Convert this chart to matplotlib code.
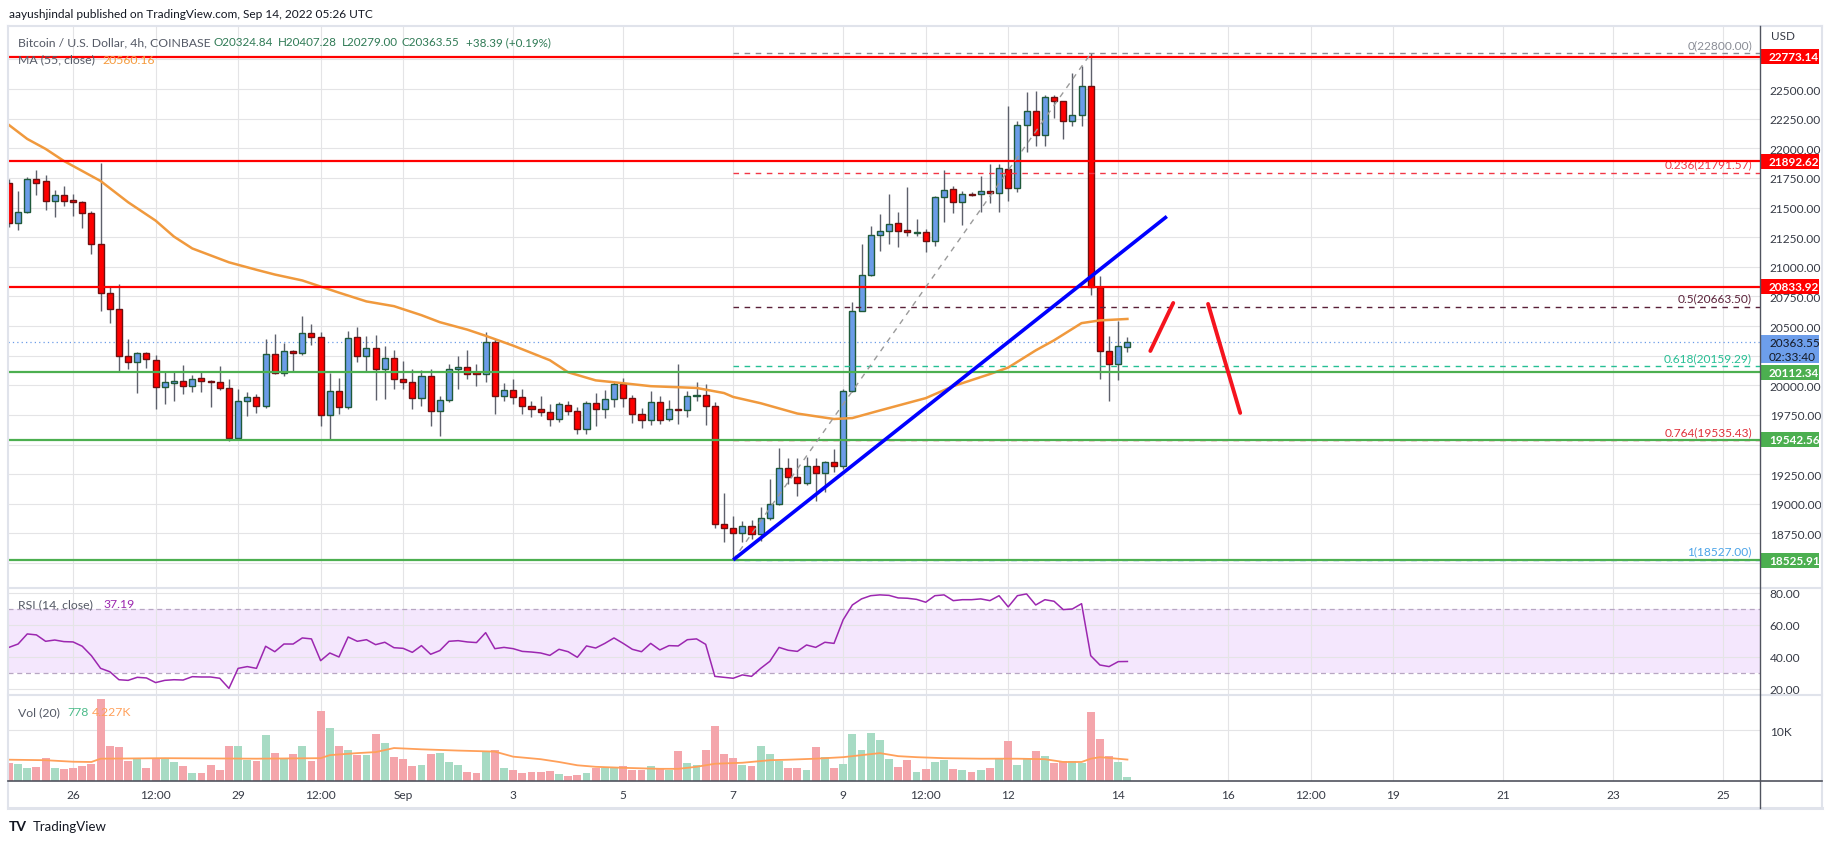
import matplotlib
matplotlib.use("Agg")
import numpy as np
import matplotlib.pyplot as plt
from matplotlib.lines import Line2D
from matplotlib.patches import Rectangle
from matplotlib.transforms import blended_transform_factory

plt.rcParams['font.family'] = ['Lato', 'DejaVu Sans']

W, H = 1834, 845

# BTC/USD 4h candles (Coinbase). bar 0 = Aug 26 00:00 UTC, 6 bars per day.
# the first bar is cut in half by the left edge of the chart
first_bar = -7
opens = [21705, 21367, 21460, 21739, 21722, 21559, 21604, 21562, 21545, 21452,
         21190, 20777, 20642, 20245, 20200, 20270, 20211, 19983, 20023, 20034,
         19992, 20059, 20034, 20026, 19975, 19555, 19865, 19899, 19823, 20262,
         20101, 20290, 20270, 20439, 20405, 19752, 19949, 19814, 20405, 20250,
         20312, 20141, 20228, 20051, 20025, 19890, 20076, 19781, 19874, 20135,
         20152, 20110, 20093, 20363, 19913, 19958, 19899, 19823, 19797, 19772,
         19713, 19831, 19781, 19629, 19848, 19798, 19882, 20008, 19890, 19755,
         19705, 19857, 19713, 19798, 19789, 19907, 19916, 19823, 18827, 18793,
         18751, 18810, 18743, 18878, 18996, 19300, 19224, 19173, 19317, 19258,
         19350, 19322, 19950, 20630, 20934, 21272, 21300, 21367, 21308, 21288,
         21291, 21221, 21587, 21654, 21544, 21615, 21612, 21643, 21620, 21823,
         21663, 22194, 22312, 22110, 22430, 22397, 22228, 22279, 22523, 20827,
         20287, 20177, 20324.84]
highs = [21740, 21637, 21755, 21817, 21775, 21649, 21680, 21612, 21559, 21471,
         21876, 20841, 20853, 20391, 20279, 20279, 20256, 20110, 20110, 20172,
         20087, 20110, 20048, 20163, 20054, 19969, 19941, 19924, 20391, 20433,
         20355, 20298, 20582, 20518, 20450, 20104, 20062, 20456, 20490, 20413,
         20425, 20329, 20298, 20205, 20138, 20132, 20138, 19913, 20180, 20245,
         20298, 20180, 20447, 20391, 20020, 20054, 19969, 19871, 19907, 19843,
         19857, 19865, 19814, 19870, 19935, 19958, 20031, 20062, 19919, 19809,
         19949, 19913, 19876, 20177, 19949, 20025, 20011, 19857, 19092, 18900,
         18852, 18864, 18971, 19210, 19471, 19387, 19387, 19398, 19387, 19362,
         19463, 19969, 20700, 21193, 21347, 21446, 21615, 21460, 21674, 21404,
         21319, 21601, 21817, 21685, 21640, 21629, 21764, 21865, 21865, 22355,
         22231, 22473, 22481, 22453, 22453, 22402, 22633, 22698, 22800, 20920,
         20419, 20546, 20407.28]
lows = [21340, 21314, 21455, 21609, 21483, 21424, 21516, 21432, 21331, 21111,
        20630, 20529, 20124, 20138, 19938, 20149, 19803, 19846, 19871, 19930,
        19947, 19947, 19820, 19964, 19530, 19545, 19744, 19770, 19812, 20093,
        20082, 20124, 20259, 20343, 19660, 19548, 19758, 19800, 20194, 20124,
        19879, 19885, 19969, 19969, 19800, 19828, 19660, 19570, 19857, 19969,
        20053, 19997, 20025, 19758, 19870, 19843, 19758, 19730, 19744, 19660,
        19688, 19753, 19592, 19592, 19660, 19727, 19817, 19820, 19685, 19643,
        19668, 19677, 19702, 19674, 19735, 19868, 19668, 18793, 18675, 18527,
        18678, 18703, 18689, 18864, 18990, 19168, 19069, 19159, 19027, 19097,
        19266, 19294, 19940, 20625, 20925, 21137, 21193, 21170, 21263, 21263,
        21128, 21179, 21376, 21454, 21356, 21601, 21466, 21536, 21466, 21558,
        21634, 21972, 22017, 22017, 22259, 22076, 22186, 22191, 20765, 20054,
        19865, 20048, 20279.00]
closes = [21367, 21460, 21739, 21710, 21559, 21604, 21559, 21545, 21452, 21190,
          20777, 20642, 20245, 20200, 20270, 20220, 19983, 20026, 20034, 19992,
          20051, 20034, 20031, 19975, 19555, 19865, 19899, 19823, 20262, 20101,
          20287, 20270, 20439, 20405, 19752, 19949, 19814, 20397, 20250, 20312,
          20141, 20228, 20051, 20025, 19890, 20076, 19786, 19874, 20135, 20152,
          20093, 20093, 20363, 19907, 19958, 19899, 19823, 19797, 19772, 19713,
          19840, 19781, 19629, 19848, 19798, 19882, 20008, 19890, 19755, 19705,
          19857, 19705, 19798, 19789, 19907, 19916, 19823, 18827, 18793, 18751,
          18810, 18743, 18878, 18996, 19300, 19224, 19173, 19317, 19258, 19350,
          19322, 19950, 20630, 20934, 21272, 21300, 21359, 21305, 21291, 21294,
          21221, 21587, 21648, 21544, 21612, 21609, 21643, 21620, 21834, 21663,
          22194, 22312, 22110, 22430, 22397, 22228, 22279, 22523, 20827, 20287,
          20177, 20329, 20363.55]

rsi = [46.0, 48.1, 54.4, 53.8, 49.8, 50.6, 49.6, 49.4, 46.7, 40.8,
       32.9, 30.8, 25.8, 25.4, 27.3, 26.9, 24.0, 25.4, 25.8, 25.6,
       27.7, 27.5, 27.5, 26.7, 20.4, 32.9, 34.0, 32.9, 46.7, 43.3,
       48.1, 48.1, 51.9, 51.3, 37.7, 42.5, 40.0, 52.5, 49.8, 50.8,
       47.7, 49.2, 45.8, 45.4, 42.9, 47.1, 41.7, 44.0, 49.8, 50.2,
       49.4, 49.0, 55.2, 45.2, 46.0, 45.2, 43.5, 43.1, 42.5, 41.0,
       44.8, 43.3, 39.8, 46.9, 45.6, 48.5, 51.9, 48.5, 44.8, 43.3,
       48.5, 44.4, 47.1, 46.9, 50.8, 51.3, 47.9, 27.9, 27.3, 26.7,
       28.8, 27.9, 32.9, 37.3, 46.0, 44.2, 43.5, 47.5, 46.0, 49.2,
       48.5, 63.3, 72.5, 76.3, 78.3, 78.8, 78.5, 76.9, 76.7, 76.0,
       74.2, 78.3, 78.8, 75.2, 75.8, 75.8, 76.3, 75.2, 78.3, 71.3,
       78.3, 79.4, 72.5, 75.8, 74.8, 69.6, 70.0, 73.3, 40.8, 35.0,
       34.0, 37.1, 37.19]

# volume in thousands
volume_k = [3.6, 3.4, 2.6, 2.8, 4.6, 2.6, 2.4, 2.6, 3.0, 3.3,
            16.1, 7.0, 6.8, 4.0, 4.5, 2.6, 4.5, 4.5, 3.8, 3.0,
            1.6, 1.6, 3.2, 2.2, 7.0, 7.0, 4.2, 4.0, 9.1, 5.6,
            4.6, 5.4, 7.0, 4.0, 13.9, 10.5, 7.0, 6.2, 5.2, 5.2,
            9.3, 7.4, 4.7, 4.4, 3.0, 3.2, 5.4, 5.6, 3.8, 3.2,
            1.8, 1.6, 6.0, 6.2, 2.6, 2.2, 1.6, 1.8, 1.8, 2.0,
            1.4, 1.05, 1.25, 1.6, 2.6, 2.6, 2.6, 3.0, 2.2, 2.2,
            3.0, 2.6, 2.2, 6.0, 3.6, 3.2, 6.2, 10.9, 5.4, 4.6,
            3.2, 3.0, 7.0, 5.4, 4.0, 2.6, 2.6, 2.2, 6.8, 4.8,
            2.6, 3.4, 9.3, 6.2, 9.5, 8.0, 4.4, 2.8, 4.2, 1.8,
            2.4, 3.8, 4.2, 2.4, 2.2, 1.8, 2.2, 2.6, 4.4, 7.8,
            3.2, 4.4, 6.0, 5.0, 3.6, 4.0, 4.0, 3.6, 13.7, 8.2,
            5.0, 3.8, 0.778]

# volume MA(20), read at a few bars
vol_ma_bar = [-7, -3, 0, 2, 3, 10, 20, 27, 28, 31, 33, 35, 38, 42, 46, 48, 51, 53, 55, 57,
              60, 64, 66, 68, 70, 73, 76, 78, 81, 84, 88, 90, 92, 95, 99, 103, 106, 108,
              110, 111, 112, 115]
vol_ma_k = [4.2, 4.1, 3.8, 3.75, 4.4, 4.5, 4.4, 4.5, 5.1, 5.5, 5.7, 6.5, 6.25, 6.0, 5.8,
            4.8, 4.3, 3.75, 3.1, 2.8, 2.6, 2.4, 2.4, 2.8, 3.4, 3.6, 4.1, 4.2, 4.4, 4.7,
            5.5, 4.9, 4.7, 4.5, 4.4, 4.4, 4.3, 3.75, 3.75, 4.4, 4.7, 4.227]

# MA(55, close), read at a few bars
ma_bar = [-7, -5, -3, -1, 3, 6, 9, 11, 13, 17, 20, 22, 25, 29, 32, 35, 38, 40, 43, 45,
          48, 52, 54, 57, 60, 63, 66, 68, 71, 72, 75, 79, 83, 85, 88, 93, 96, 100, 102,
          105, 107, 110, 112, 115]
ma55 = [22197, 22079, 21995, 21893, 21724, 21545, 21390, 21255, 21155, 21038, 20975,
        20935, 20885, 20782, 20708, 20668, 20592, 20533, 20470, 20418, 20335, 20212,
        20110, 20042, 20018, 19993, 19984, 19978, 19935, 19902, 19849, 19762, 19716,
        19724, 19788, 19892, 19993, 20095, 20150, 20295, 20380, 20525, 20548, 20560.16]

red_levels = [22773.14, 21892.62, 20833.92]
green_levels = [20112.34, 19542.56, 18525.91]
last_price = 20363.55
countdown = "02:33:40"

fib_ratio = ["0", "0.236", "0.5", "0.618", "0.764", "1"]
fib_price = [22800.00, 21791.57, 20663.50, 20159.29, 19535.43, 18527.00]
fib_color = ['#8a8d96', '#f23645', '#5a2038', '#26bf94', '#e0303a', '#4aa3e8']
fib_start = 72          # bar of the Sep 7 low

# hand drawn lines: (bar, price) pairs
trend_bar, trend_price = [72, 119.3], [18527, 21425]
swing_bar, swing_price = [72, 111], [18527, 22800]
arrow1_bar, arrow1_price = [117.5, 120.0], [20290, 20695]
arrow2_bar, arrow2_price = [123.8, 127.3], [20687, 19767]

time_tick_bar = [0, 9, 18, 27, 36, 48, 60, 72, 84, 93, 102, 114, 126, 135, 144, 156, 168, 180]
time_tick_lbl = ["26", "12:00", "29", "12:00", "Sep", "3", "5", "7", "9", "12:00",
                 "12", "14", "16", "12:00", "19", "21", "23", "25"]
price_ticks = list(range(18500, 22751, 250))
# scale labels that sit under a coloured price tag are not drawn
hidden_ticks = [18500, 19500, 20250, 22750]

# legend line of the main series
ohlc_text = ["O20324.84", "H20407.28", "L20279.00", "C20363.55", "+38.39 (+0.19%)"]
ohlc_px = [213, 278, 342, 402, 466]

# colours
UP, UP_EDGE = '#6b9ce8', '#1f5a3a'
DN, DN_EDGE = '#ff0000', '#6e1010'
WICK = '#5d606b'
GRID = '#e4e4e6'
FRAME = '#e0e3eb'
TXT = '#363a45'

# layout in pixels of the 1834x845 picture
LEFT, PRICE_X, RIGHT = 8, 1760, 1822
TOP, MAIN_B, RSI_B, VOL_B, BOTTOM = 27, 589, 696, 782, 809
X_MIN, X_MAX = -7.1, 184.0


def fx(px):
    return px / W


def fy(py):
    return 1 - py / H


def box(x0, y0, x1, y1):
    return [fx(x0), fy(y1), (x1 - x0) / W, (y1 - y0) / H]


def fig_line(x0, y0, x1, y1, color, lw):
    fig.add_artist(Line2D([fx(x0), fx(x1)], [fy(y0), fy(y1)], color=color, lw=lw))


def fig_text(px, py, s, color, size=8, **kw):
    fig.text(fx(px), fy(py), s, color=color, fontsize=size, va='center', ha='left', **kw)


def price_tag(ax, price, lines, fc, tc, bold=True, h_px=15):
    tr = blended_transform_factory(ax.transAxes, ax.transData)
    lo, hi = ax.get_ylim()
    per_px = (hi - lo) / (ax.get_position().height * H)
    n = len(lines)
    top = price + h_px / 2 * per_px
    ax.add_patch(Rectangle((1.0, top - n * h_px * per_px), 59 / (PRICE_X - LEFT),
                           n * h_px * per_px, transform=tr, fc=fc, ec='none',
                           clip_on=False, zorder=20))
    for i, s in enumerate(lines):
        ax.text(1 + 9 / (PRICE_X - LEFT), price - i * h_px * per_px, s, transform=tr,
                ha='left', va='center', color=tc, fontsize=8.5,
                fontweight='bold' if bold else 'normal', clip_on=False, zorder=21)


fig = plt.figure(figsize=(W / 100, H / 100), dpi=100)
fig.patch.set_facecolor('white')

ax = fig.add_axes(box(LEFT, TOP, PRICE_X, MAIN_B))
ax_rsi = fig.add_axes(box(LEFT, MAIN_B, PRICE_X, RSI_B))
ax_vol = fig.add_axes(box(LEFT, RSI_B, PRICE_X, VOL_B))

x = np.arange(first_bar, first_bar + len(closes))
o, h, l, c = map(np.array, (opens, highs, lows, closes))
up = c >= o

for a in (ax, ax_rsi, ax_vol):
    a.set_xlim(X_MIN, X_MAX)
    a.set_xticks(time_tick_bar)
    a.grid(True, color=GRID, lw=0.8, zorder=0)
    a.set_axisbelow(True)
    for sp in a.spines.values():
        sp.set_visible(False)
    a.yaxis.tick_right()
    a.tick_params(axis='both', length=0, labelsize=8.6, labelcolor=TXT, pad=7)
ax.tick_params(axis='x', labelbottom=False)
ax_rsi.tick_params(axis='x', labelbottom=False)
ax_vol.set_xticklabels(time_tick_lbl)
ax_vol.tick_params(axis='x', pad=6)

# ---- main price pane ----
ax.set_ylim(18290, 23032)
ax.set_yticks(price_ticks)
ax.set_yticklabels(["" if p in hidden_ticks else "%.2f" % p for p in price_ticks])

ax.vlines(x, l, h, color=WICK, lw=1, zorder=3)
ax.bar(x, np.abs(c - o), bottom=np.minimum(o, c), width=0.66,
       color=np.where(up, UP, DN), edgecolor=np.where(up, UP_EDGE, DN_EDGE),
       linewidth=1, zorder=4)
ax.plot(ma_bar, ma55, color='#f0993d', lw=1.8, zorder=5)

# current price line
ax.axhline(last_price, color='#6b9ce8', lw=0.9, ls=(0, (1, 2.5)), zorder=2)

# fib retracement
for r, p, col in zip(fib_ratio, fib_price, fib_color):
    ax.hlines(p, fib_start, X_MAX, color=col, lw=1, linestyles=(0, (4, 4)), zorder=5)
    ax.annotate("%s(%.2f)" % (r, p), xy=(0.9954, p),
                xycoords=blended_transform_factory(ax.transAxes, ax.transData),
                xytext=(0, 2.5), textcoords='offset points', ha='right', va='bottom',
                color=col, fontsize=8.6, zorder=6)

for p in red_levels:
    ax.axhline(p, color='#ff0000', lw=1.6, zorder=6)
for p in green_levels:
    ax.axhline(p, color='#4caf50', lw=1.6, zorder=6)

ax.plot(swing_bar, swing_price, color='#9a9a9a', lw=1, ls=(0, (4, 4)), zorder=6)
ax.plot(trend_bar, trend_price, color='#0000ff', lw=2.6, zorder=7, solid_capstyle='butt')
ax.plot(arrow1_bar, arrow1_price, color='#f5141e', lw=2.8, zorder=7, solid_capstyle='round')
ax.plot(arrow2_bar, arrow2_price, color='#f5141e', lw=2.8, zorder=7, solid_capstyle='round')

for p in red_levels:
    price_tag(ax, p, ["%.2f" % p], '#ff0000', 'white')
for p in green_levels:
    price_tag(ax, p, ["%.2f" % p], '#4caf50', 'white')
price_tag(ax, last_price, ["%.2f" % last_price, countdown], '#6d9eeb', '#131722',
          bold=False, h_px=14)

# ---- RSI pane ----
ax_rsi.set_ylim(16.25, 83.1)
ax_rsi.set_yticks([20, 40, 60, 80])
ax_rsi.set_yticklabels(["20.00", "40.00", "60.00", "80.00"])
ax_rsi.axhspan(30, 70, color='#f4e7fd', zorder=0.5, lw=0)
ax_rsi.axhline(70, color='#b7a6c2', lw=0.9, ls=(0, (4, 3)), zorder=1)
ax_rsi.axhline(30, color='#b7a6c2', lw=0.9, ls=(0, (4, 3)), zorder=1)
ax_rsi.plot(x, rsi, color='#9c27b0', lw=1.1, zorder=3)

# ---- volume pane ----
ax_vol.set_ylim(0, 16.96)
ax_vol.set_yticks([10])
ax_vol.set_yticklabels(["10K"])
ax_vol.bar(x, volume_k, width=0.86, color=np.where(up, '#a7dbc4', '#f4a5ab'), zorder=2)
ax_vol.plot(vol_ma_bar, vol_ma_k, color='#ffa05a', lw=1.3, zorder=3)

# ---- frame ----
fig_line(LEFT, TOP, RIGHT, TOP, FRAME, 1.5)
fig_line(LEFT, TOP, LEFT, BOTTOM, FRAME, 1.5)
fig_line(RIGHT, TOP, RIGHT, BOTTOM, FRAME, 1.5)
fig_line(LEFT, BOTTOM, RIGHT, BOTTOM, FRAME, 2.2)
fig_line(LEFT, MAIN_B, RIGHT, MAIN_B, FRAME, 1.5)
fig_line(LEFT, RSI_B, RIGHT, RSI_B, FRAME, 1.5)
fig_line(LEFT, VOL_B, RIGHT, VOL_B, '#50535e', 1.2)
fig_line(PRICE_X, TOP, PRICE_X, BOTTOM, '#50535e', 1.0)

# ---- texts ----
fig_text(9, 15, "aayushjindal published on TradingView.com, Sep 14, 2022 05:26 UTC", '#131722', 8.6)
lbl = '#555a66'
fig_text(18, 43, "Bitcoin / U.S. Dollar, 4h, COINBASE", lbl, 8.8)
for s, px in zip(ohlc_text, ohlc_px):
    fig_text(px, 43, s, '#2f7a55', 8.4)
fig_text(18, 60, "MA (55, close)", lbl, 8.8)
fig_text(102, 60, "20560.16", '#f59a3c', 8.8)
fig_text(1771, 37, "USD", TXT, 8.4)
fig_text(18, 605, "RSI (14, close)", lbl, 8.8)
fig_text(104, 605, "37.19", '#9c27b0', 8.8)
fig_text(18, 713, "Vol (20)", lbl, 8.8)
fig_text(67, 713, "778", '#4cbb8a', 8.8)
fig_text(92, 713, "4.227K", '#ffa05a', 8.8)
fig_text(9, 827, "TV", '#131722', 10, fontweight='bold')
fig_text(33, 827, "TradingView", '#131722', 9.5)

fig.savefig("out.png", dpi=100)
